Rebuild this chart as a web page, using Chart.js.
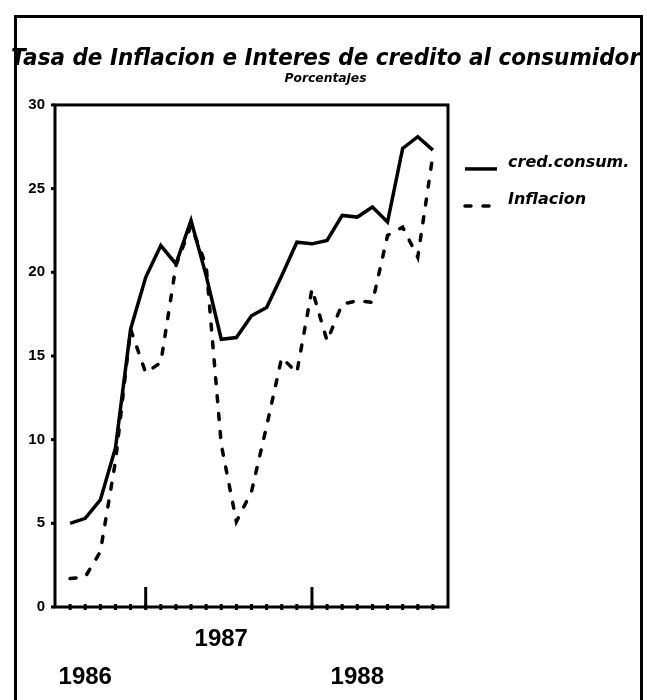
<!DOCTYPE html>
<html>
<head>
<meta charset="utf-8">
<script src="https://cdn.jsdelivr.net/npm/chart.js@4.4.1/dist/chart.umd.min.js"></script>
<style>
  html, body { margin: 0; padding: 0; background: #fff; }
  #wrap { position: relative; width: 647px; height: 700px; overflow: hidden; }
  #frame { position: absolute; left: 14px; top: 15px; width: 623px; height: 720px; border: 3px solid #000; }
  #chart { position: absolute; left: 0; top: 0; }
</style>
</head>
<body>
<div id="wrap">
  <div id="frame"></div>
  <canvas id="chart" width="647" height="700"></canvas>
</div>
<script>
/* ── Data ──────────────────────────────────────────────── */
const periods = [1, 2, 3, 4, 5, 6, 7, 8, 9, 10, 11, 12, 13, 14, 15, 16, 17, 18, 19, 20, 21, 22, 23, 24, 25];
const credConsum = [5.0, 5.3, 6.4, 9.5, 16.6, 19.7, 21.6, 20.5, 23.1, 19.8, 16.0, 16.1, 17.4,
                    17.9, 19.8, 21.8, 21.7, 21.9, 23.4, 23.3, 23.9, 23.0, 27.4, 28.1, 27.3];
const inflacion  = [1.7, 1.8, 3.3, 8.7, 16.6, 14.0, 14.6, 20.4, 22.8, 20.4, 9.7, 5.1, 6.9,
                    10.8, 14.9, 14.0, 19.0, 15.9, 18.1, 18.3, 18.2, 22.2, 22.7, 20.9, 27.0];

const yTicks = [0, 5, 10, 15, 20, 25, 30];
const yearNames = ['1986', '1987', '1988'];
const yearLabelAt = [2, 11, 20];
const yearLabelRow = [1, 0, 1];
const yearMarks = [6, 17];

const heavyItalic = (size) => ({ family: "'DejaVu Sans', sans-serif", size, weight: 'bold', style: 'italic' });

/* ── Axis frame + tick marks ───────────────────────────── */
const axisMarks = {
  id: 'axisMarks',
  afterDatasetsDraw(chart) {
    const { ctx, chartArea: a, scales: { x, y } } = chart;
    const line = (x1, y1, x2, y2) => { ctx.beginPath(); ctx.moveTo(x1, y1); ctx.lineTo(x2, y2); ctx.stroke(); };
    ctx.save();
    ctx.strokeStyle = '#000';
    ctx.lineWidth = 3;
    ctx.strokeRect(a.left, a.top, a.right - a.left, a.bottom - a.top);
    periods.forEach(v => {
      const px = x.getPixelForValue(v);
      line(px, a.bottom - 3, px, a.bottom + 3);
    });
    yearMarks.forEach(v => {
      const px = x.getPixelForValue(v);
      line(px, a.bottom - 20, px, a.bottom);
    });
    yTicks.forEach(v => {
      const py = y.getPixelForValue(v);
      line(a.left - 4, py, a.left, py);
    });
    ctx.restore();
  }
};

/* ── Legend to the right of the plot ───────────────────── */
const sideLegend = {
  id: 'sideLegend',
  afterDraw(chart) {
    const { ctx, chartArea: a } = chart;
    ctx.save();
    ctx.fillStyle = '#000';
    ctx.strokeStyle = '#000';
    ctx.textBaseline = 'middle';
    ctx.font = "italic bold 16px 'DejaVu Sans', sans-serif";
    chart.data.datasets.forEach((ds, i) => {
      const x = a.right + 17;
      const y = a.top + 58 + i * 37;
      ctx.lineWidth = ds.borderWidth;
      ctx.lineCap = ds.borderCapStyle || 'butt';
      ctx.setLineDash(ds.borderDash || []);
      ctx.beginPath();
      ctx.moveTo(x, y + 6);
      ctx.lineTo(x + 32, y + 6);
      ctx.stroke();
      ctx.setLineDash([]);
      ctx.fillText(ds.label, x + 43, y);
    });
    ctx.restore();
  }
};

new Chart(document.getElementById('chart'), {
  type: 'line',
  data: {
    datasets: [
      {
        label: 'cred.consum.',
        data: periods.map((p, i) => ({ x: p, y: credConsum[i] })),
        borderColor: '#000',
        borderWidth: 3.5,
        pointRadius: 0,
        tension: 0,
      },
      {
        label: 'Inflacion',
        data: periods.map((p, i) => ({ x: p, y: inflacion[i] })),
        borderColor: '#000',
        borderWidth: 3.5,
        borderDash: [6, 12],
        borderCapStyle: 'round',
        pointRadius: 0,
        tension: 0,
      },
    ],
  },
  options: {
    responsive: false,
    animation: false,
    devicePixelRatio: 1,
    layout: { padding: { top: 0, left: 11, right: 7, bottom: 4 } },
    plugins: {
      title: {
        display: true,
        text: 'Tasa de Inflacion e Interes de credito al consumidor',
        color: '#000',
        font: heavyItalic(22.9),
        padding: { top: 45.5, bottom: -2 },
      },
      subtitle: {
        display: true,
        text: 'Porcentajes',
        color: '#000',
        font: heavyItalic(12.3),
        padding: { top: 0, bottom: 19.2 },
      },
      legend: { display: false },
      tooltip: { enabled: false },
    },
    scales: {
      x: {
        type: 'linear',
        min: 0,
        max: 26,
        grid: { display: false, drawTicks: false },
        border: { display: false },
        afterFit: (scale) => { scale.height = 89; },
        ticks: {
          stepSize: 1,
          autoSkip: false,
          maxRotation: 0,
          padding: 13,
          color: '#000',
          font: { family: "'Liberation Sans', sans-serif", size: 24, weight: 'bold', lineHeight: 1.58 },
          callback: (v) => {
            const k = yearLabelAt.indexOf(v);
            if (k < 0) return '';
            return yearLabelRow[k] ? ['', yearNames[k]] : [yearNames[k]];
          },
        },
      },
      y: {
        min: 0,
        max: 30,
        grid: { display: false, drawTicks: false },
        border: { display: false },
        afterFit: (scale) => { scale.width = 44; },
        afterBuildTicks: (scale) => { scale.ticks = yTicks.map(v => ({ value: v })); },
        ticks: {
          padding: 10,
          color: '#000',
          font: { family: "'Liberation Sans', sans-serif", size: 15, weight: 'bold' },
        },
      },
      // empty right-hand axis that keeps room for the legend
      legendRoom: {
        type: 'linear',
        position: 'right',
        grid: { display: false, drawTicks: false },
        border: { display: false },
        ticks: { display: false },
        afterFit: (scale) => { scale.width = 192; },
      },
    },
  },
  plugins: [axisMarks, sideLegend],
});
</script>
</body>
</html>
